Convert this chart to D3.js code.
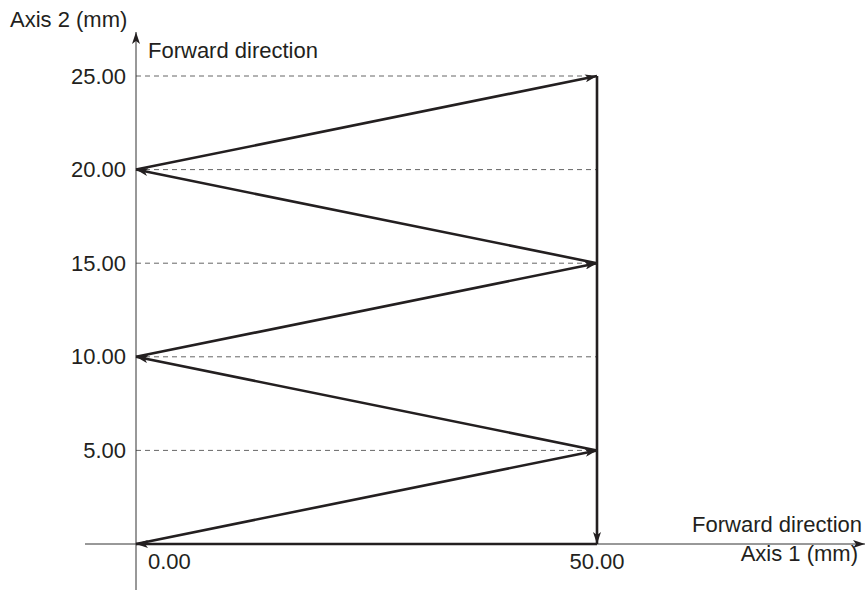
<!DOCTYPE html>
<html><head><meta charset="utf-8">
<script src="https://cdn.jsdelivr.net/npm/d3@7"></script>
<style>body{margin:0;background:#fff}svg{display:block;font-family:"Liberation Sans",Arial,sans-serif}</style>
</head><body>
<svg id="c" width="867" height="590"></svg>
<script>
const pathX = [0, 50, 0, 50, 0, 50, 50, 0];
const pathY = [0, 5, 10, 15, 20, 25, 0, 0];
const yTicks = [5, 10, 15, 20, 25];
const xTickValues = [0, 50];
const xTickLabels = ["0.00", "50.00"];
const xAxisTitle = "Axis 1 (mm)";
const yAxisTitle = "Axis 2 (mm)";
const dirLabel = "Forward direction";

const svg = d3.select("#c");
const x = d3.scaleLinear().domain([0, 50]).range([136, 597]);
const y = d3.scaleLinear().domain([0, 25]).range([544, 76]);
const fs = 22;
const ink = "#231f20";

const defs = svg.append("defs");
defs.append("marker").attr("id", "ah").attr("viewBox", "0 0 12 8")
  .attr("refX", 12).attr("refY", 4).attr("markerWidth", 12).attr("markerHeight", 8)
  .attr("markerUnits", "userSpaceOnUse").attr("orient", "auto")
  .append("path").attr("d", "M0,0 L12,4 L0,8 L3,4 Z").attr("fill", ink);
defs.append("marker").attr("id", "ax").attr("viewBox", "0 0 12 8")
  .attr("refX", 12).attr("refY", 4).attr("markerWidth", 12).attr("markerHeight", 8)
  .attr("markerUnits", "userSpaceOnUse").attr("orient", "auto")
  .append("path").attr("d", "M0,0 L12,4 L0,8 L3,4 Z").attr("fill", ink);

// dashed grid lines
svg.append("g").selectAll("line").data(yTicks).join("line")
  .attr("x1", x(0)).attr("x2", x(50)).attr("y1", d => y(d)).attr("y2", d => y(d))
  .attr("stroke", "#666").attr("stroke-width", 1).attr("stroke-dasharray", "5,4");

// axes
svg.append("line").attr("x1", x(0)).attr("x2", x(0)).attr("y1", 590).attr("y2", 32)
  .attr("stroke", "#333").attr("stroke-width", 1).attr("marker-end", "url(#ax)");
svg.append("line").attr("x1", 85).attr("x2", 865).attr("y1", y(0)).attr("y2", y(0))
  .attr("stroke", "#333").attr("stroke-width", 1).attr("marker-end", "url(#ax)");

// y tick labels
svg.append("g").selectAll("text").data(yTicks).join("text")
  .attr("x", 126).attr("y", d => y(d) + 7.5).attr("text-anchor", "end")
  .attr("font-size", fs).attr("fill", ink).text(d => d3.format(".2f")(d));

// x tick labels
svg.append("text").attr("x", 148).attr("y", 569).attr("font-size", fs).attr("fill", ink).text(xTickLabels[0]);
svg.append("text").attr("x", x(xTickValues[1])).attr("y", 569).attr("text-anchor", "middle")
  .attr("font-size", fs).attr("fill", ink).text(xTickLabels[1]);

// titles
svg.append("text").attr("x", 10).attr("y", 27).attr("font-size", fs).attr("fill", ink).text(yAxisTitle);
svg.append("text").attr("x", 148).attr("y", 58).attr("font-size", fs).attr("fill", ink).text(dirLabel);
svg.append("text").attr("x", 862).attr("y", 532).attr("text-anchor", "end").attr("font-size", fs).attr("fill", ink).text(dirLabel);
svg.append("text").attr("x", 858).attr("y", 561).attr("text-anchor", "end").attr("font-size", fs).attr("fill", ink).text(xAxisTitle);

// path segments
const segs = d3.range(pathX.length - 1).map(i => ({x1: pathX[i], y1: pathY[i], x2: pathX[i + 1], y2: pathY[i + 1]}));
svg.append("g").selectAll("line").data(segs).join("line")
  .attr("x1", d => x(d.x1)).attr("y1", d => y(d.y1))
  .attr("x2", d => x(d.x2)).attr("y2", d => y(d.y2))
  .attr("stroke", ink).attr("stroke-width", 2.6).attr("stroke-linecap", "butt")
  .attr("marker-end", "url(#ah)");
</script>
</body></html>
